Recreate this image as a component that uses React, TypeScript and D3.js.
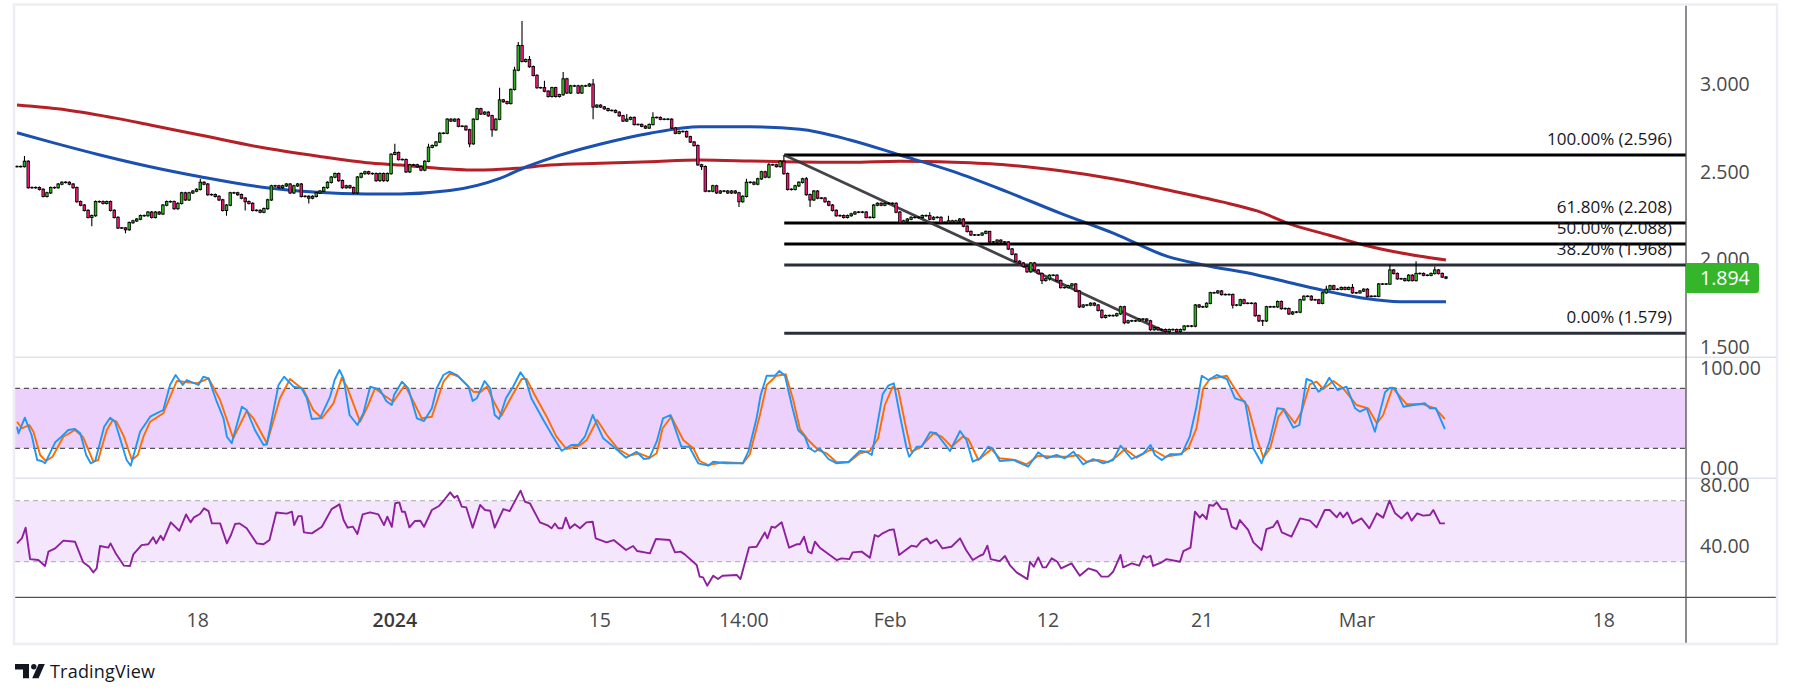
import React from 'react';
import * as d3 from 'd3';

const W = 1793;
const H = 698;

// ---- price candles (4H closes) ----
const firstOpen = 2.53;
const closes = [
  2.53, 2.53, 2.56, 2.41, 2.41, 2.41, 2.40, 2.36, 2.38, 2.41,
  2.41, 2.43, 2.44, 2.44, 2.43, 2.41, 2.33, 2.31, 2.28, 2.24,
  2.25, 2.33, 2.33, 2.32, 2.33, 2.28, 2.24, 2.18, 2.18, 2.17,
  2.21, 2.22, 2.23, 2.25, 2.25, 2.27, 2.24, 2.27, 2.26, 2.31,
  2.33, 2.33, 2.29, 2.32, 2.38, 2.34, 2.38, 2.39, 2.40, 2.44,
  2.43, 2.37, 2.37, 2.36, 2.34, 2.28, 2.31, 2.38, 2.38, 2.37,
  2.35, 2.33, 2.32, 2.28, 2.28, 2.27, 2.29, 2.34, 2.42, 2.42,
  2.41, 2.42, 2.43, 2.38, 2.42, 2.43, 2.36, 2.36, 2.35, 2.36,
  2.38, 2.39, 2.41, 2.44, 2.47, 2.49, 2.45, 2.41, 2.42, 2.41,
  2.38, 2.47, 2.49, 2.50, 2.49, 2.49, 2.45, 2.49, 2.45, 2.49,
  2.60, 2.61, 2.57, 2.57, 2.50, 2.54, 2.54, 2.53, 2.51, 2.56,
  2.64, 2.65, 2.67, 2.72, 2.72, 2.80, 2.79, 2.80, 2.76, 2.76,
  2.74, 2.66, 2.80, 2.86, 2.83, 2.84, 2.82, 2.74, 2.80, 2.91,
  2.90, 2.89, 2.97, 3.08, 3.22, 3.13, 3.14, 3.10, 3.05, 2.98,
  2.98, 2.96, 2.93, 2.98, 2.93, 2.94, 3.03, 2.95, 2.99, 2.99,
  2.95, 2.99, 2.99, 3.00, 2.87, 2.88, 2.87, 2.86, 2.85, 2.85,
  2.84, 2.82, 2.79, 2.80, 2.81, 2.77, 2.77, 2.76, 2.75, 2.77,
  2.81, 2.81, 2.80, 2.80, 2.80, 2.75, 2.72, 2.73, 2.73, 2.70,
  2.67, 2.65, 2.54, 2.53, 2.39, 2.39, 2.42, 2.38, 2.39, 2.39,
  2.38, 2.39, 2.38, 2.33, 2.36, 2.44, 2.44, 2.43, 2.46, 2.50,
  2.47, 2.54, 2.54, 2.53, 2.56, 2.49, 2.40, 2.40, 2.42, 2.44,
  2.46, 2.37, 2.34, 2.39, 2.35, 2.35, 2.33, 2.31, 2.28, 2.25,
  2.25, 2.24, 2.25, 2.26, 2.27, 2.27, 2.27, 2.24, 2.24, 2.31,
  2.32, 2.31, 2.32, 2.32, 2.32, 2.27, 2.21, 2.22, 2.23, 2.24,
  2.24, 2.24, 2.25, 2.25, 2.23, 2.24, 2.24, 2.21, 2.21, 2.22,
  2.21, 2.22, 2.23, 2.19, 2.16, 2.14, 2.14, 2.14, 2.15, 2.16,
  2.10, 2.10, 2.11, 2.10, 2.10, 2.06, 2.03, 1.99, 1.98, 1.96,
  1.93, 1.98, 1.94, 1.92, 1.88, 1.89, 1.91, 1.91, 1.88, 1.84,
  1.84, 1.85, 1.86, 1.82, 1.73, 1.74, 1.74, 1.75, 1.74, 1.71,
  1.67, 1.68, 1.68, 1.68, 1.69, 1.73, 1.64, 1.65, 1.65, 1.65,
  1.66, 1.66, 1.65, 1.60, 1.61, 1.60, 1.60, 1.59, 1.60, 1.60,
  1.59, 1.60, 1.62, 1.62, 1.62, 1.74, 1.73, 1.73, 1.75, 1.81,
  1.81, 1.82, 1.80, 1.80, 1.80, 1.74, 1.74, 1.77, 1.75, 1.75,
  1.75, 1.68, 1.65, 1.65, 1.73, 1.73, 1.73, 1.76, 1.72, 1.72,
  1.69, 1.70, 1.70, 1.77, 1.79, 1.79, 1.77, 1.77, 1.75, 1.81,
  1.83, 1.85, 1.83, 1.83, 1.84, 1.83, 1.84, 1.81, 1.81, 1.82,
  1.83, 1.79, 1.79, 1.79, 1.86, 1.86, 1.86, 1.94, 1.92, 1.89,
  1.89, 1.88, 1.91, 1.88, 1.92, 1.92, 1.91, 1.91, 1.92, 1.94,
  1.92, 1.90, 1.894,
];

// visible long wicks: [bar, price]
const highWicks: [number, number][] = [
  [2, 2.59], [49, 2.46], [101, 2.66], [110, 2.66], [129, 2.98], [133, 3.10],
  [134, 3.24], [135, 3.36], [137, 3.16], [141, 3.02], [146, 3.07], [154, 3.03],
  [163, 2.83], [170, 2.84], [195, 2.46], [201, 2.55], [205, 2.596], [211, 2.47],
  [244, 2.27], [249, 2.25], [260, 2.16], [350, 1.85], [357, 1.86], [367, 1.97],
  [374, 1.99], [379, 1.96],
];
const lowWicks: [number, number][] = [
  [20, 2.19], [29, 2.15], [56, 2.25], [61, 2.28], [78, 2.32], [121, 2.64],
  [127, 2.70], [154, 2.80], [183, 2.51], [193, 2.30], [212, 2.30], [274, 1.86],
  [276, 1.88], [296, 1.63], [308, 1.579], [325, 1.72], [333, 1.62],
];

// ---- moving averages: [bar, value] ----
const maSlow: [number, number][] = [
  [0, 2.881], [13.3, 2.853], [26.7, 2.805], [35.6, 2.767], [48.9, 2.71], [66.7, 2.634],
  [80.1, 2.59], [93.5, 2.552], [102.4, 2.539], [115.7, 2.516], [122.9, 2.51], [133.6, 2.52],
  [142.5, 2.539], [155.8, 2.549], [169.2, 2.558], [182.6, 2.567], [195.9, 2.562], [204.8, 2.558],
  [222.7, 2.554], [236, 2.56], [250.4, 2.554], [264.6, 2.539], [279, 2.506], [293.2, 2.459],
  [307.7, 2.396], [321.8, 2.33], [331.5, 2.277], [341, 2.197], [350.6, 2.14], [360, 2.083],
  [369.7, 2.039], [382, 1.997],
];
const maFast: [number, number][] = [
  [0, 2.723], [8.6, 2.672], [22.2, 2.596], [35.6, 2.529], [49, 2.472], [66.7, 2.409],
  [80.1, 2.383], [93.5, 2.374], [102.4, 2.374], [115.7, 2.393], [129.1, 2.463], [136.2, 2.529],
  [142.5, 2.577], [155.8, 2.657], [169.2, 2.72], [182.6, 2.757], [195.9, 2.757], [209.3, 2.743],
  [222.7, 2.682], [236, 2.596], [250.4, 2.501], [264.6, 2.387], [279, 2.263], [293.2, 2.149],
  [307.7, 2.016], [317.2, 1.969], [331.5, 1.912], [341, 1.864], [350.6, 1.817], [360, 1.779],
  [369.7, 1.759], [382, 1.759],
];

// ---- Stochastic %K / %D : [bar, value] ----
const stochK: [number, number][] = [
  [0, 41.6], [0.4, 35], [2.1, 50.6], [3.9, 33.3], [5.4, 8.3], [6.6, 7.3], [7.5, 5], [10.2, 26], [11.9, 31.6],
  [13.7, 38.3], [15.5, 39.3], [16.9, 35], [18.5, 13.3], [19.7, 5], [20.9, 7.3], [23.3, 41.6], [24.9, 50.6],
  [26.2, 46.6], [29.3, 8.3], [30.4, 2.6], [32.9, 36.6], [35.6, 51.6], [37.3, 55], [39.1, 58.3], [40.9, 83.3],
  [42.4, 93.3], [44.3, 83.3], [45.4, 88.3], [48.5, 83.3], [49.8, 91.6], [51.2, 90], [53.4, 66.6], [55.2, 50],
  [56.1, 31.6], [57.4, 25], [60.1, 61.6], [61.4, 58.3], [63.6, 38.3], [65.9, 23.3], [66.8, 24], [69.9, 83.3],
  [71.4, 91.6], [73.9, 81.6], [76.1, 80], [77.5, 70], [78.8, 49.3], [81, 50], [83.7, 71.6], [84.9, 88.3],
  [86.2, 98.3], [87.3, 90], [88.9, 53.3], [91, 43.3], [92.6, 55], [94.4, 81.6], [97.1, 78.3], [98.7, 67.3],
  [100.2, 63.3], [100.8, 73.3], [102.9, 86.6], [104.6, 80], [106.9, 50], [108.8, 47.3], [110.9, 60],
  [112.2, 80], [114, 93.3], [115.6, 96.6], [117.6, 93.3], [120.7, 81.6], [121.8, 67.3], [122.9, 70],
  [125, 87.3], [126.5, 80], [127.7, 53.3], [128.9, 49.3], [130.7, 70], [132.6, 81.6], [134.6, 96],
  [136, 88.3], [137.5, 70], [140.7, 48.3], [143.3, 31.6], [145.6, 17.6], [148.2, 23.3], [150, 23.3],
  [151.8, 31.6], [153.9, 53.3], [156.7, 30], [159.8, 20.6], [162.8, 10.6], [165.6, 16.6], [167.6, 9.3],
  [169, 10], [171, 26.6], [172.7, 50], [174.7, 53.3], [177.6, 21.6], [179.7, 21.6], [182.1, 5], [184.8, 2.6],
  [186.1, 6.6], [189.5, 5], [194, 5], [195.5, 16.6], [197.7, 50], [198.8, 73.3], [200.4, 92.6], [202.6, 92.6],
  [203.8, 97.3], [205.3, 92.6], [207.1, 63.3], [208.8, 38.3], [210.6, 31.6], [211.8, 20], [213.3, 16.6],
  [214.6, 20], [216.9, 9.3], [219.1, 5], [222.2, 6], [225.3, 17.3], [227.1, 16.6], [228.5, 13.3], [229.8, 40],
  [231.4, 74], [232.9, 82.6], [234.4, 85], [236, 53.3], [237.8, 20], [238.5, 11.6], [240.5, 21.6],
  [241.8, 21.6], [244.1, 36], [245.8, 35], [249.4, 17.3], [252.1, 37.3], [253.8, 28.3], [255.5, 6.6],
  [257.4, 10], [259.6, 21.6], [260.8, 20], [262.7, 7.3], [266.3, 8.3], [270.3, 1.6], [273, 16], [275.2, 10],
  [277.9, 13.3], [280.1, 10], [282.4, 16.6], [285, 4], [287.7, 9.3], [290.4, 5], [293, 8.3], [295, 22.6],
  [298, 9.3], [301.1, 15], [303, 23.3], [304.2, 13.3], [306, 8.3], [308.2, 14], [311.3, 14], [313.5, 31.6],
  [315.2, 60], [316.7, 92.6], [318.5, 88.3], [320.7, 93.3], [323.4, 89.3], [325.6, 70], [328.3, 66.6],
  [330.5, 20], [332.7, 5], [334.8, 26.6], [336.9, 60], [338.5, 59.3], [341.2, 40.6], [342.8, 43.3],
  [344.7, 89.3], [346.1, 87.3], [347.9, 76.6], [349.2, 80], [350.8, 90.6], [353, 78.3], [355.4, 81.6],
  [357.7, 60], [359, 56.6], [360.8, 60], [363, 36.6], [365.7, 76], [367, 80.6], [368.4, 80], [370.6, 61.6],
  [373.3, 63.3], [376.4, 65], [377.7, 60], [379.3, 60], [381.7, 39.3],
];
const stochD: [number, number][] = [
  [0, 46.6], [1.3, 40], [3.3, 43.3], [4.4, 36.6], [6.2, 13.3], [7.7, 7.3], [9.5, 11.6], [12.4, 31.6],
  [15.5, 38.3], [17.6, 31.6], [20.4, 6.6], [21.7, 8.3], [24, 38.3], [25.6, 48.3], [26.6, 46.6], [28.6, 31.6],
  [30.7, 8.3], [32.3, 13.3], [33.8, 31.6], [35.6, 46.6], [39.1, 55], [42.7, 87.3], [48.1, 85], [51.2, 90],
  [54.3, 68.3], [57.8, 30], [61.4, 57.3], [63.2, 50], [66.8, 25], [70.3, 70], [73, 89.3], [76.6, 78.3],
  [79.2, 58.3], [81.5, 50], [84.6, 65], [86.8, 90.6], [88.2, 81.6], [91.7, 46.6], [93.5, 60], [95.7, 80],
  [98, 73.3], [100.6, 66.6], [103.7, 83.3], [106, 66.6], [108.2, 50], [110.9, 51.6], [114, 86.6], [115.8, 95],
  [118, 91.6], [122, 76.6], [123.8, 76], [125.6, 81.6], [127.7, 65], [129.5, 52.6], [131.7, 68.3],
  [134.9, 89.3], [136.2, 89.3], [138.4, 73.3], [141.6, 51.6], [144.2, 31.6], [146.9, 19.3], [150.3, 22.6],
  [152.3, 28.3], [155.1, 48.3], [158, 31.6], [160.7, 19.3], [163.7, 12.6], [166.3, 15], [169.2, 10.6],
  [171, 15], [172.6, 40], [174.9, 51.6], [178.1, 28.3], [180.8, 20], [182.5, 7.3], [184.8, 3.3], [188.8, 6],
  [194.1, 5], [195.9, 14], [198.6, 53.3], [200.4, 83.3], [203, 92.6], [205.5, 94], [207.5, 68.3],
  [209.3, 39.3], [211.5, 28.3], [214.2, 18.3], [216.4, 15], [219.1, 6], [222.5, 6.6], [225.3, 15], [228, 17.3],
  [230.2, 30], [232, 63.3], [234.1, 81.6], [235.6, 78.3], [237.6, 41.6], [239.1, 16.6], [241.4, 20.6],
  [245, 35], [247.2, 31.6], [249.8, 21.6], [252.8, 31.6], [254.3, 29.3], [257, 8.3], [260.5, 19.3],
  [262.7, 10], [266.8, 8.3], [269.9, 4], [273, 12.6], [277, 11.6], [280.8, 11.6], [283.7, 13.3], [285.9, 6.6],
  [289, 8.3], [291.7, 6], [293.9, 11.6], [296.2, 19.3], [299.3, 10.6], [303.3, 19.3], [306.9, 11.6],
  [310.9, 14], [313.1, 20], [315.3, 40], [317.1, 80], [318.9, 89.3], [323.4, 92.6], [326.9, 71.6],
  [329.1, 61.6], [331.4, 30], [333.2, 10.6], [335, 20], [337.2, 51.6], [338.7, 59.3], [341.6, 45],
  [343.4, 56.6], [345.6, 84], [347.4, 86.6], [349.2, 79.3], [351.9, 87.3], [354.5, 80], [358.1, 63.3],
  [361.2, 60], [363.5, 45], [365.2, 53.3], [367.7, 80.6], [371.5, 64], [375.9, 64], [379.1, 60], [381.7, 49.3],
];

// ---- RSI : [bar, value] ----
const rsi: [number, number][] = [
  [0, 42], [1.3, 45.3], [2.3, 52.3], [3.5, 31.7], [5.7, 31.1], [7.5, 27.2], [8.4, 36.6], [10.2, 38.7],
  [12.4, 43.8], [15.5, 43.1], [17.7, 29.6], [19.3, 26.7], [20.4, 23], [21.3, 25.6], [22.2, 40.3], [24.4, 39.2],
  [25, 42], [26.5, 35], [28.6, 27.4], [30.2, 27.2], [31.1, 34.8], [33.3, 40.9], [35.1, 41.4], [36.4, 46],
  [37.2, 42], [38.4, 47], [39.1, 44.2], [41.1, 55.8], [43.4, 50.3], [45.2, 61], [46.4, 55.8], [47.3, 59.1],
  [48.9, 61.3], [50, 65], [51.2, 63.2], [52.1, 55.1], [54.3, 55.1], [56.1, 42], [57.2, 47.5], [58.3, 54.7],
  [59.5, 55.1], [61.4, 51.9], [64.1, 42], [65.9, 41.4], [67.5, 44.2], [69.3, 62.3], [72.1, 61.5], [73.5, 62.8],
  [74.1, 54], [75.2, 59.9], [76.1, 59.9], [76.7, 49.2], [78.8, 48.6], [81.5, 52.9], [84.1, 64.5], [86.2, 67.6],
  [87.3, 57.3], [88.4, 52.3], [89.8, 53], [91, 48.1], [92.4, 61], [94.4, 62.3], [96.6, 61], [98.1, 54],
  [99, 59.5], [100.2, 52.9], [101.1, 68.3], [102.2, 68.9], [102.9, 62.8], [103.7, 62.8], [104.9, 52.5],
  [106.4, 56.7], [107.8, 56.9], [108.8, 52.9], [110.9, 63.9], [112.9, 66.7], [114.4, 71.1], [115.8, 75.5],
  [116.9, 72], [117.7, 73.3], [118.9, 66.1], [120.1, 65.6], [121.8, 52.3], [123.8, 67.2], [125.1, 63.9],
  [126.5, 63.4], [127.7, 52.3], [130, 64.5], [131.7, 63.2], [134.6, 76.6], [135.8, 69.3], [137.1, 68.3],
  [139.8, 55.8], [142, 53.6], [142.9, 51.9], [143.8, 55.1], [144.7, 51.9], [145.8, 51.9], [146.7, 58.9],
  [147.8, 51.9], [149.1, 54.5], [150.5, 51.9], [152.2, 55.8], [153.9, 56.2], [154.7, 45.3], [157.6, 42.7],
  [159.5, 44.2], [162.8, 37.7], [164.7, 40.3], [165.8, 37], [169.2, 35.5], [170.8, 44.9], [174.5, 44.2],
  [175.9, 36.1], [177.4, 36.6], [178.5, 34.8], [181.7, 27.8], [182.5, 20.2], [183.4, 19.7], [184.5, 14.3],
  [186.1, 20.8], [187.4, 18.6], [188.6, 20.8], [192.4, 21.3], [193.4, 18.6], [195.7, 39.4], [197.7, 39.8],
  [199.9, 49.2], [200.6, 45.3], [201.7, 52.9], [202.6, 52.3], [204.4, 55.8], [206.4, 39.2], [208.4, 41.4],
  [209.3, 41.4], [210.4, 46.4], [211.5, 36.6], [212.4, 35.5], [213.3, 43.1], [214.6, 39.2], [219.1, 31.1],
  [220.4, 32.2], [222.5, 31.7], [223.4, 36.1], [225.8, 36.6], [228, 32.6], [229.3, 47.5], [230.2, 46.4],
  [231.4, 48.6], [233.2, 50.8], [234.4, 51.2], [235.8, 34.4], [239.1, 40.5], [240.5, 39.8], [241.8, 43.6],
  [243.2, 45.3], [244.2, 42], [245.8, 44.2], [247.4, 38.7], [249.8, 39.8], [252.1, 45.3], [253.7, 37.7],
  [255.5, 31.1], [257.4, 33.9], [258.3, 34.8], [259.4, 40.5], [260.3, 31.7], [262.7, 30.4], [264.1, 33.7],
  [265.4, 27.8], [267.2, 23], [270.1, 18.6], [270.8, 30], [271.8, 26.7], [273, 32.8], [274.2, 26.3],
  [275.1, 26.3], [276.6, 32.2], [278.1, 30], [279.1, 25.6], [281.9, 28.9], [284.1, 20.8], [286.4, 25.6],
  [288.6, 23.9], [289.9, 20.2], [291.7, 20.2], [293, 23.4], [295, 34.4], [295.7, 26.3], [298, 28.9],
  [300, 27.4], [301.1, 33.9], [302, 32.6], [303, 33.9], [303.7, 27.2], [306, 29.6], [307.3, 31.7],
  [310.9, 30], [311.8, 37], [313.7, 39.2], [314.9, 62.8], [316.2, 58.9], [316.9, 61], [318, 58], [318.7, 67.2],
  [319.8, 66.7], [320.7, 68.9], [322, 64.5], [323.4, 64.5], [324.7, 52.9], [326, 51.4], [326.9, 57.3],
  [329.1, 50.8], [330.5, 42.7], [332.7, 37.7], [334, 51.4], [335.8, 52.9], [336.9, 56.9], [338.1, 49.2],
  [340.7, 46.4], [343, 58.4], [345.6, 56.9], [347.4, 52.5], [349.6, 63.9], [350.9, 63.9], [352.8, 59.1],
  [353.7, 62.3], [354.5, 59.1], [355.6, 62.3], [357, 55.1], [359.4, 58.4], [361.5, 51.9], [363.5, 61.7],
  [365.2, 58.9], [366.9, 70], [368.4, 61.7], [370.1, 58.4], [371.7, 62.3], [372.8, 56.9], [374.3, 61.7],
  [375.9, 60.2], [377.7, 60.6], [378.6, 63.9], [380.4, 55.1], [381.7, 55.1],
];

// ---- axes / annotations ----
const priceTicks = [3.0, 2.5, 2.0, 1.5];
const stochTicks = [100, 0];
const stochBands = [80, 20];
const rsiTicks = [80, 40];
const rsiBands = [70, 30];
const timeTicks: { bar: number; label: string; strong?: boolean }[] = [
  { bar: 48.3, label: '18' },
  { bar: 101, label: '2024', strong: true },
  { bar: 155.8, label: '15' },
  { bar: 194.3, label: '14:00' },
  { bar: 233.4, label: 'Feb' },
  { bar: 275.6, label: '12' },
  { bar: 316.8, label: '21' },
  { bar: 358.2, label: 'Mar' },
  { bar: 424.2, label: '18' },
];
const fibRatios = [1, 0.618, 0.5, 0.382, 0];
const fibPrices = [2.596, 2.208, 2.088, 1.968, 1.579];
const fibColors = ['#000000', '#000000', '#000000', '#2a2e39', '#2a2e39'];
const fibStartBar = 205.1;
const trendFrom: [number, number] = [205.1, 2.596];
const trendTo: [number, number] = [307.8, 1.579];
const lastPrice = 1.894;

// ---- layout ----
const L = 15;
const AX = 1686;
const R = 1777;
const MAIN_T = 5;
const MAIN_B = 357.3;
const ST_B = 478.3;
const RSI_B = 597.3;
const BOTTOM = 644;

const FONT = "'Open Sans', 'DejaVu Sans', sans-serif";

export default function App() {
  const n = closes.length;
  const x = d3.scaleLinear().domain([0, n - 1]).range([17, 1446]);
  const yP = d3.scaleLinear().domain([1.579, 2.596]).range([333.3, 155]);
  const yS = d3.scaleLinear().domain([0, 100]).range([468.3, 368.3]);
  const yR = d3.scaleLinear().domain([30, 70]).range([561.7, 500.7]);

  const hiMap = new Map(highWicks);
  const loMap = new Map(lowWicks);

  const maLine = d3
    .line<[number, number]>()
    .x((d) => x(d[0]))
    .y((d) => yP(d[1]))
    .curve(d3.curveMonotoneX);
  const sLine = d3
    .line<[number, number]>()
    .x((d) => x(d[0]))
    .y((d) => yS(d[1]));
  const rLine = d3
    .line<[number, number]>()
    .x((d) => x(d[0]))
    .y((d) => yR(d[1]));

  const candles = closes.map((c, i) => {
    const o = i === 0 ? firstOpen : closes[i - 1];
    const top = Math.max(o, c);
    const bot = Math.min(o, c);
    const hi = hiMap.has(i) ? Math.max(hiMap.get(i)!, top) : top + 0.006;
    const lo = loMap.has(i) ? Math.min(loMap.get(i)!, bot) : bot - 0.006;
    const cx = x(i);
    const yt = yP(top);
    const yb = yP(bot);
    const h = yb - yt;
    const up = c > o;
    const flat = Math.abs(c - o) < 1e-9;
    const fill = up ? '#2fb020' : '#e5186d';
    return (
      <g key={i}>
        <line x1={cx} x2={cx} y1={yP(hi)} y2={yP(lo)} stroke="#000" strokeWidth={1.1} />
        {flat ? (
          <rect x={cx - 1.7} y={yt - 0.7} width={3.4} height={1.4} fill="#000" />
        ) : (
          <>
            <rect x={cx - 1.7} y={yt - 0.6} width={3.4} height={h + 1.2} fill="#000" />
            {h > 1.2 && <rect x={cx - 0.95} y={yt + 0.4} width={1.9} height={h - 0.8} fill={fill} />}
          </>
        )}
      </g>
    );
  });

  const fmtP = d3.format('.3f');
  const fmtI = d3.format('.2f');

  const yLast = yP(lastPrice);

  return (
    <div style={{ position: 'absolute', left: 0, top: 0, width: W, height: H, background: '#fff' }}>
      <svg width={W} height={H} style={{ display: 'block' }} fontFamily={FONT}>
        <defs>
          <clipPath id="cMain">
            <rect x={L} y={MAIN_T} width={AX - L} height={MAIN_B - MAIN_T} />
          </clipPath>
          <clipPath id="cSt">
            <rect x={L} y={MAIN_B} width={AX - L} height={ST_B - MAIN_B} />
          </clipPath>
          <clipPath id="cRsi">
            <rect x={L} y={ST_B} width={AX - L} height={RSI_B - ST_B} />
          </clipPath>
        </defs>
        <rect x={0} y={0} width={W} height={H} fill="#fff" />

        {/* ---------- main pane ---------- */}
        <g clipPath="url(#cMain)">
          <path d={maLine(maSlow) || ''} fill="none" stroke="#b52026" strokeWidth={3} />
          <path d={maLine(maFast) || ''} fill="none" stroke="#1a50b0" strokeWidth={3} />
          {fibPrices.map((p, k) => (
            <line
              key={k}
              x1={x(fibStartBar)}
              x2={AX}
              y1={yP(p)}
              y2={yP(p)}
              stroke={fibColors[k]}
              strokeWidth={3}
            />
          ))}
          <line
            x1={x(trendFrom[0])}
            y1={yP(trendFrom[1])}
            x2={x(trendTo[0])}
            y2={yP(trendTo[1])}
            stroke="#333338"
            strokeOpacity={0.92}
            strokeWidth={2.8}
          />
          {candles}
          {fibPrices.map((p, k) => (
            <text
              key={k}
              x={1672}
              y={yP(p) - 10}
              textAnchor="end"
              fontSize={17}
              fill="#131722"
            >
              {`${(fibRatios[k] * 100).toFixed(2)}% (${p.toFixed(3)})`}
            </text>
          ))}
        </g>

        {/* ---------- stochastic pane ---------- */}
        <rect x={L} y={yS(stochBands[0])} width={AX - L} height={yS(stochBands[1]) - yS(stochBands[0])} fill="#ebd1fc" />
        {stochBands.map((b) => (
          <line key={b} x1={L} x2={AX} y1={yS(b)} y2={yS(b)} stroke="#555" strokeWidth={1.2} strokeDasharray="5 4" />
        ))}
        <g clipPath="url(#cSt)">
          <path d={sLine(stochD) || ''} fill="none" stroke="#ff6d00" strokeWidth={1.9} strokeLinejoin="round" />
          <path d={sLine(stochK) || ''} fill="none" stroke="#2196f3" strokeWidth={1.9} strokeLinejoin="round" />
        </g>

        {/* ---------- RSI pane ---------- */}
        <rect x={L} y={yR(rsiBands[0])} width={AX - L} height={yR(rsiBands[1]) - yR(rsiBands[0])} fill="#f4e6fd" />
        {rsiBands.map((b) => (
          <line key={b} x1={L} x2={AX} y1={yR(b)} y2={yR(b)} stroke="#b8b8bf" strokeWidth={1.2} strokeDasharray="5 4" />
        ))}
        <g clipPath="url(#cRsi)">
          <path d={rLine(rsi) || ''} fill="none" stroke="#8e1f9e" strokeWidth={1.9} strokeLinejoin="round" />
        </g>

        {/* ---------- separators & frame ---------- */}
        <line x1={L} x2={R} y1={MAIN_B} y2={MAIN_B} stroke="#e0e3eb" strokeWidth={1.5} />
        <line x1={L} x2={R} y1={ST_B} y2={ST_B} stroke="#e0e3eb" strokeWidth={1.5} />
        <line x1={L} x2={R} y1={RSI_B} y2={RSI_B} stroke="#505050" strokeWidth={1.3} />
        <line x1={AX} x2={AX} y1={MAIN_T} y2={BOTTOM} stroke="#505050" strokeWidth={1.3} />
        <rect x={L - 1} y={MAIN_T - 0.5} width={R - L + 1} height={BOTTOM - MAIN_T + 0.5} fill="none" stroke="#eceef4" strokeWidth={2.5} />

        {/* ---------- right axis labels ---------- */}
        {priceTicks.map((p) => (
          <text key={p} x={1700} y={yP(p)} dy="0.35em" fontSize={19.5} fill="#4a4a4a">
            {fmtP(p)}
          </text>
        ))}
        {stochTicks.map((v) => (
          <text key={'s' + v} x={1700} y={yS(v)} dy="0.35em" fontSize={19.5} fill="#4a4a4a">
            {fmtI(v)}
          </text>
        ))}
        {rsiTicks.map((v) => (
          <text key={'r' + v} x={1700} y={yR(v)} dy="0.35em" fontSize={19.5} fill="#4a4a4a">
            {fmtI(v)}
          </text>
        ))}

        {/* last price badge */}
        <path
          d={`M${AX} ${yLast - 15} H1756 a3 3 0 0 1 3 3 V${yLast + 12} a3 3 0 0 1 -3 3 H${AX} Z`}
          fill="#35b52a"
        />
        <text x={1700} y={yLast} dy="0.35em" fontSize={19.5} fill="#fff">
          {fmtP(lastPrice)}
        </text>

        {/* ---------- time axis ---------- */}
        {timeTicks.map((t, k) => (
          <text
            key={k}
            x={x(t.bar)}
            y={620}
            dy="0.35em"
            textAnchor="middle"
            fontSize={19.5}
            fontWeight={t.strong ? 600 : 400}
            fill={t.strong ? '#3a3a3a' : '#4a4a4a'}
          >
            {t.label}
          </text>
        ))}

        {/* ---------- TradingView logo ---------- */}
        <g fill="#131722">
          <path d="M15 664 H29 V678.3 H23 V669.6 H15 Z" />
          <circle cx={33.8} cy={666.8} r={2.7} />
          <path d="M38.6 664 H44.8 L38.6 678.3 H32.2 Z" />
          <text x={50} y={678.3} fontSize={18} textLength={105} fill="#131722">
            TradingView
          </text>
        </g>
      </svg>
    </div>
  );
}
